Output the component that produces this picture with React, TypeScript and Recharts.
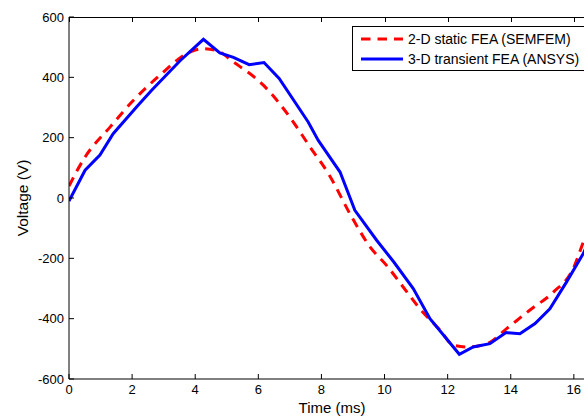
import { LineChart, Line, XAxis, YAxis, Legend } from "recharts";

// 2-D static FEA (SEMFEM)
const redTime = [0, 0.51, 1.3, 1.99, 2.88, 3.83, 4.26, 4.7, 5.21, 6.16, 7.0, 7.64, 8.22, 8.96, 9.54, 10.1, 10.59, 11.12, 11.76, 12.18, 12.65, 13.29, 13.87, 14.6, 15.35, 15.98, 16.32, 16.67];
const redVolts = [40, 136, 235, 318, 407, 484, 495, 488, 451, 374, 268, 169, 81, -63, -162, -228, -295, -367, -438, -488, -494, -481, -433, -372, -312, -234, -140, -45];

// 3-D transient FEA (ANSYS)
const blueTime = [0, 0.51, 0.98, 1.4, 2.14, 2.62, 3.52, 4.26, 4.78, 5.21, 5.71, 6.18, 6.66, 7.58, 7.9, 8.59, 9.06, 9.75, 10.3, 10.91, 11.44, 12.37, 12.81, 13.34, 13.85, 14.29, 14.77, 15.24, 15.77, 16.3, 16.67];
const blueVolts = [-10, 92, 142, 213, 302, 357, 455, 526, 481, 466, 442, 449, 396, 252, 191, 86, -41, -140, -213, -300, -400, -518, -494, -483, -446, -450, -416, -367, -278, -184, -95];

const timeTicks = [0, 2, 4, 6, 8, 10, 12, 14, 16];
const voltTicks = [-600, -400, -200, 0, 200, 400, 600];
const timeMax = 16.67;

const seriesNames = ["2-D static FEA (SEMFEM)", "3-D transient FEA (ANSYS)"];

const redData = redTime.map((t, i) => ({ t, v: redVolts[i] }));
const blueData = blueTime.map((t, i) => ({ t, v: blueVolts[i] }));

// chart geometry (plot box)
const CHART_W = 620;
const PLOT_LEFT = 69;
const PLOT_TOP = 17;
const RIGHT_MARGIN = 25;
const PLOT_RIGHT = CHART_W - RIGHT_MARGIN;

const FONT = '"Liberation Sans", Arial, Helvetica, sans-serif';
const tickStyle = { fontSize: 13, fill: "#000", fontFamily: FONT };

const VoltLabel = ({ viewBox }: any) => {
  const cx = viewBox.x + 22;
  const cy = viewBox.y + viewBox.height / 2;
  return (
    <text
      x={cx}
      y={cy}
      transform={`rotate(-90, ${cx}, ${cy})`}
      textAnchor="middle"
      dominantBaseline="central"
      fontSize={15.5}
      fontFamily={FONT}
      fill="#000"
    >
      Voltage (V)
    </text>
  );
};

const LegendBox = () => (
  <div
    style={{
      border: "1px solid #000",
      background: "#fff",
      width: 240,
      height: 41,
      paddingTop: 2,
      boxSizing: "content-box",
      fontFamily: FONT,
      fontSize: 14,
      color: "#000",
    }}
  >
    {seriesNames.map((name, i) => (
      <div key={name} style={{ display: "flex", alignItems: "center", height: 20 }}>
        <svg width={42} height={20} style={{ marginLeft: 8 }}>
          <line
            x1={0}
            x2={42}
            y1={10}
            y2={10}
            stroke={i === 0 ? "#ff0000" : "#0000ff"}
            strokeWidth={3}
            strokeDasharray={i === 0 ? "9.5 7" : undefined}
          />
        </svg>
        <span style={{ marginLeft: 5, whiteSpace: "nowrap" }}>{name}</span>
      </div>
    ))}
  </div>
);

// top border of the MATLAB-style box, with inward ticks
const TopBorder = () => {
  const toX = (t: number) => PLOT_LEFT + (t / timeMax) * (PLOT_RIGHT - PLOT_LEFT);
  return (
    <>
      <div
        style={{
          position: "absolute",
          left: PLOT_LEFT,
          top: PLOT_TOP,
          width: PLOT_RIGHT - PLOT_LEFT,
          height: 0,
          borderTop: "1px solid #000",
          zIndex: 5,
          pointerEvents: "none",
        }}
      />
      <svg
        width={CHART_W}
        height={30}
        style={{ position: "absolute", left: 0, top: 0, zIndex: 5, pointerEvents: "none" }}
      >
        {timeTicks.map((t) => (
          <line
            key={t}
            x1={Math.round(toX(t)) + 0.5}
            x2={Math.round(toX(t)) + 0.5}
            y1={PLOT_TOP}
            y2={PLOT_TOP + 5}
            stroke="#000"
            strokeWidth={1}
          />
        ))}
      </svg>
    </>
  );
};

export default function App() {
  return (
    <div
      style={{
        position: "absolute",
        left: 0,
        top: 0,
        width: 584,
        height: 416,
        overflow: "hidden",
        background: "#fff",
      }}
    >
      <LineChart
        width={CHART_W}
        height={416}
        margin={{ top: PLOT_TOP, right: RIGHT_MARGIN, left: 0, bottom: 0 }}
      >
        <XAxis
          dataKey="t"
          type="number"
          domain={[0, timeMax]}
          ticks={timeTicks}
          allowDataOverflow
          height={37}
          stroke="#000"
          tickSize={-5}
          tickMargin={11}
          tick={tickStyle}
          label={{
            value: "Time (ms)",
            position: "insideBottom",
            offset: 3,
            fontSize: 15,
            fontFamily: FONT,
            fill: "#000",
          }}
        />
        <YAxis
          type="number"
          domain={[voltTicks[0], voltTicks[voltTicks.length - 1]]}
          ticks={voltTicks}
          width={PLOT_LEFT}
          stroke="#000"
          tickSize={-5}
          tickMargin={10}
          tick={tickStyle}
          label={<VoltLabel />}
        />
        <Legend
          verticalAlign="middle"
          align="center"
          content={<LegendBox />}
          wrapperStyle={{ top: 26, left: 352, width: 242 }}
        />
        <Line
          data={redData}
          dataKey="v"
          type="monotone"
          stroke="#ff0000"
          strokeWidth={3}
          strokeDasharray="9.5 7"
          dot={false}
          activeDot={false}
          isAnimationActive={false}
        />
        <Line
          data={blueData}
          dataKey="v"
          type="linear"
          stroke="#0000ff"
          strokeWidth={3}
          dot={false}
          activeDot={false}
          isAnimationActive={false}
        />
      </LineChart>
      <TopBorder />
    </div>
  );
}
